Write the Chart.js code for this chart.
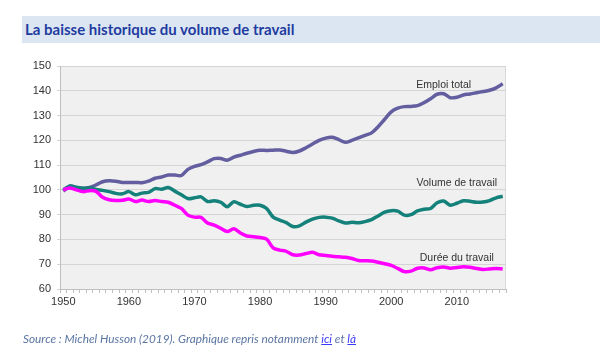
<!DOCTYPE html>
<html lang="fr">
<head>
<meta charset="utf-8">
<script src="https://cdn.jsdelivr.net/npm/chart.js@4"></script>
<style>
  html, body { margin: 0; padding: 0; background: #fff; }
  #page { position: relative; width: 600px; height: 352px; overflow: hidden; }
  #chartBox { position: absolute; left: 0; top: 0; width: 600px; height: 352px; }
  #titre {
    position: absolute; left: 22px; top: 16px; width: 578px; height: 27px;
    background: #dce6f2; color: #1f3ca0;
    font: bold 15px Lato, 'Open Sans', sans-serif; line-height: 27px;
    padding-left: 3px; box-sizing: border-box;
  }
  #source {
    position: absolute; left: 23px; top: 331px;
    font: italic 11.8px Lato, 'Open Sans', sans-serif; color: #5b76a3;
  }
  #source a { color: #3b3bff; text-decoration: underline; }
</style>
</head>
<body>
<div id="page">
  <div id="chartBox"><canvas id="volumeChart"></canvas></div>
  <div id="titre">La baisse historique du volume de travail</div>
  <div id="source">Source : Michel Husson (2019). Graphique repris notamment <a>ici</a> et <a>là</a></div>
</div>
<script>
// Années 1950-2017, indices base 100 en 1950
const years = [];
for (let y = 1950; y <= 2017; y++) years.push(String(y));

const emploiTotal = [
  99.5, 101.5, 101, 100.7, 101, 102, 103.3, 103.7, 103.5, 103,
  103, 103, 102.9, 103.5, 104.7, 105.2, 106, 106, 105.8, 108.3,
  109.5, 110.2, 111.3, 112.6, 112.7, 112, 113.2, 114, 114.8, 115.5,
  116, 115.9, 116, 116.1, 115.6, 115.1, 115.7, 117, 118.5, 120,
  120.9, 121.2, 120.3, 119.2, 120, 121, 122, 123, 125.5, 128.5,
  131.5, 133, 133.6, 133.7, 134, 135.2, 136.8, 138.6, 138.8, 137.2,
  137.4, 138.3, 138.7, 139.2, 139.7, 140.2, 141.2, 142.8
];

const volumeTravail = [
  100, 101.6, 101, 100.6, 100.8, 100.2, 99.8, 99.3, 98.6, 98.4,
  99.3, 98, 98.7, 99, 100.5, 100.3, 101, 99.5, 98, 96.5,
  96.8, 97.2, 95.3, 95.6, 95, 93.2, 95.2, 94.2, 93.3, 93.8,
  93.8, 92.5, 89, 87.8, 86.8, 85.2, 85.5, 87, 88.2, 88.9,
  89, 88.6, 87.5, 86.6, 86.9, 86.7, 87.2, 88, 89.5, 91,
  91.6, 91.4, 89.8, 90, 91.5, 92.2, 92.5, 94.8, 95.5, 93.8,
  94.6, 95.6, 95.4, 95, 95.1, 95.7, 96.8, 97.4
];

const dureeTravail = [
  100, 100.8, 100, 99.3, 99.7, 99.4, 97, 96, 95.7, 95.8,
  96.3, 95.3, 95.9, 95.3, 95.7, 95.3, 95, 93.8, 92.5, 89.8,
  89, 88.9, 86.6, 85.8, 84.5, 83.2, 84.3, 82.6, 81.4, 81.1,
  80.8, 80.1, 76.6, 75.7, 75.2, 73.8, 73.7, 74.3, 74.8, 73.8,
  73.5, 73.2, 73, 72.8, 72.3, 71.5, 71.4, 71.3, 70.8, 70.2,
  69.5, 68.3, 67, 67.2, 68.4, 68.5, 67.8, 68.6, 68.9, 68.4,
  68.7, 69, 68.8, 68.3, 67.9, 68.1, 68.3, 68.1
];

const seriesNames = ['Emploi total', 'Volume de travail', 'Durée du travail'];
const seriesColors = ['#625e9f', '#14817a', '#ff00ff'];

// fond gris de la zone de tracé
const plotBackground = {
  id: 'plotBackground',
  beforeDraw(chart) {
    const { ctx, chartArea: a } = chart;
    ctx.save();
    ctx.fillStyle = '#f0f0f0';
    ctx.fillRect(a.left, a.top, a.width, a.height);
    ctx.strokeStyle = '#d9d9d9';
    ctx.lineWidth = 1;
    ctx.strokeRect(a.left + 0.5, a.top + 0.5, a.width - 1, a.height);
    ctx.restore();
  }
};

// libellés des séries, posés au-dessus de la fin des courbes
const seriesLabels = {
  id: 'seriesLabels',
  afterDatasetsDraw(chart) {
    const { ctx, scales: { x, y } } = chart;
    const spots = [
      { i: 0, year: '2008', value: 142.3 },
      { i: 1, year: '2010', value: 102.8 },
      { i: 2, year: '2010', value: 72.5 }
    ];
    ctx.save();
    ctx.font = '10.5px Arial, "Liberation Sans", sans-serif';
    ctx.fillStyle = '#333333';
    ctx.textAlign = 'center';
    ctx.textBaseline = 'middle';
    spots.forEach(s => {
      ctx.fillText(seriesNames[s.i], x.getPixelForValue(years.indexOf(s.year)), y.getPixelForValue(s.value));
    });
    ctx.restore();
  }
};

const lineStyle = (label, data, color) => ({
  label, data,
  borderColor: color,
  backgroundColor: color,
  borderWidth: 3.5,
  pointRadius: 0,
  tension: 0.3,
  fill: false
});

new Chart(document.getElementById('volumeChart'), {
  type: 'line',
  data: {
    labels: years,
    datasets: [
      lineStyle(seriesNames[2], dureeTravail, seriesColors[2]),
      lineStyle(seriesNames[1], volumeTravail, seriesColors[1]),
      lineStyle(seriesNames[0], emploiTotal, seriesColors[0])
    ]
  },
  options: {
    responsive: true,
    maintainAspectRatio: false,
    animation: false,
    layout: { padding: { left: 0, top: 66, right: 94, bottom: 43 } },
    plugins: {
      legend: { display: false },
      tooltip: { enabled: false }
    },
    scales: {
      x: {
        offset: true,
        grid: { offset: true, drawOnChartArea: false, tickLength: 4, color: '#bfbfbf' },
        border: { color: '#bfbfbf' },
        ticks: {
          autoSkip: false,
          maxRotation: 0,
          padding: 2,
          color: '#333333',
          font: { family: 'Arial, "Liberation Sans", sans-serif', size: 11 },
          callback: (v, i) => (Number(years[i]) % 10 === 0 ? years[i] : '')
        },
        afterFit: s => { s.height = 20; }
      },
      y: {
        min: 60,
        max: 150,
        ticks: {
          stepSize: 10,
          padding: 6,
          color: '#333333',
          font: { family: 'Arial, "Liberation Sans", sans-serif', size: 11 }
        },
        grid: { color: '#d4d4d4', tickLength: 3 },
        border: { color: '#bfbfbf' },
        afterFit: s => { s.width = 60; }
      }
    }
  },
  plugins: [plotBackground, seriesLabels]
});
</script>
</body>
</html>
